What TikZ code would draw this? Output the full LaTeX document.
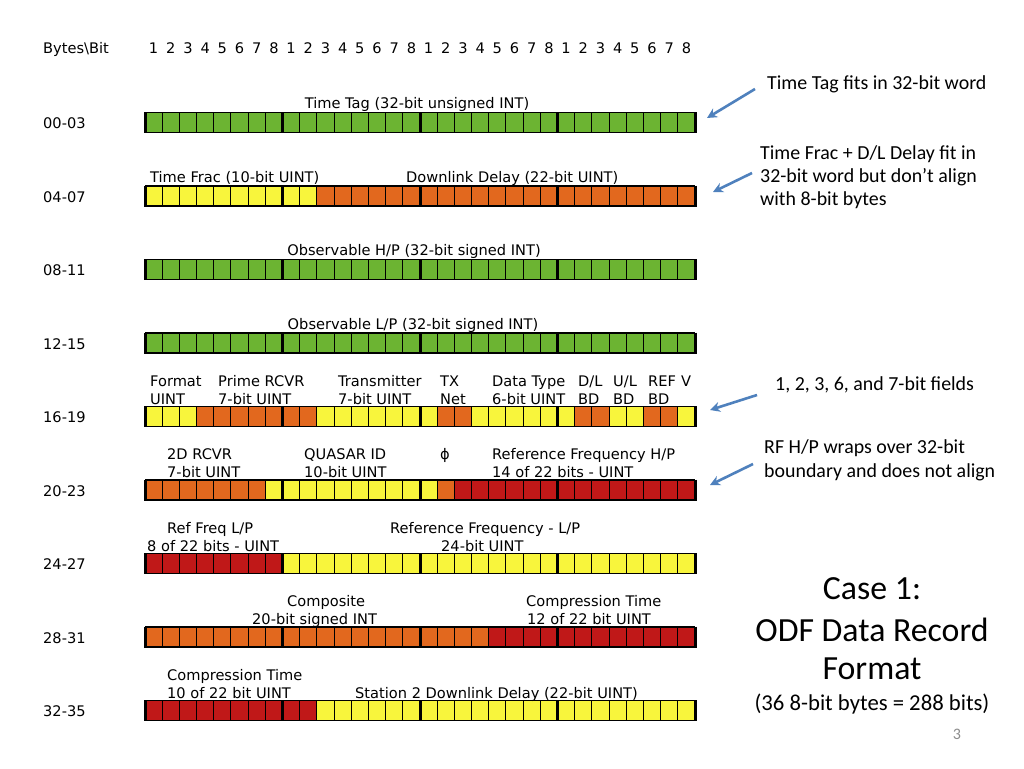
\documentclass[tikz,border=0pt]{standalone}
\usepackage{fontspec}
\usetikzlibrary{arrows.meta}
\newfontfamily\vfont{DejaVu Sans}
\newfontfamily\cfont{Carlito}
\definecolor{bgreen}{RGB}{108,180,50}
\definecolor{byellow}{RGB}{248,245,60}
\definecolor{borange}{RGB}{226,104,30}
\definecolor{bred}{RGB}{192,24,24}
\definecolor{arrblue}{RGB}{79,129,189}
\definecolor{pgray}{RGB}{140,140,140}
\newcommand\cw{17.1875}
\newcommand\odfrow[2]{%
  \foreach \s/\e/\c in {#2}{%
    \fill[\c] ({145+\s*\cw},{#1-10}) rectangle ({145+\e*\cw},{#1+10});}
  \foreach \i in {1,...,31}{%
    \draw[line width=0.9pt] ({145+\i*\cw},{#1-10}) -- ({145+\i*\cw},{#1+10});}
  \draw[line width=1.1pt] (145,{#1-10}) -- (695,{#1-10}) (145,{#1+10}) -- (695,{#1+10});
  \foreach \i in {0,8,16,24,32}{%
    \draw[line width=3pt] ({145+\i*\cw},{#1-10.5}) -- ({145+\i*\cw},{#1+10.5});}
}
\tikzset{
  lbl/.style={font=\vfont\fontsize{14.6}{17}\selectfont, inner sep=0pt, anchor=base west},
  clbl/.style={lbl, anchor=base},
  note/.style={font=\cfont\fontsize{19.9}{23}\selectfont, inner sep=0pt, anchor=base west},
  ttl/.style={font=\cfont\fontsize{33.8}{40}\selectfont, inner sep=0pt, anchor=base},
  arr/.style={draw=arrblue, line width=2.6pt, -{Stealth[length=10pt,width=10pt]}}
}
\begin{document}
\begin{tikzpicture}[x=1pt,y=-1pt]
\useasboundingbox (0,0) rectangle (1024,768);
\fill[white] (0,0) rectangle (1024,768);
% header
\node[lbl] (hb) at (43,53) {Bytes\textbackslash Bit};
\foreach \i in {0,...,31}{%
  \pgfmathtruncatemacro\bn{mod(\i,8)+1}
  \node[clbl] (h\i) at ({145+(\i+0.5)*\cw},53) {\bn};}
% row labels
\foreach \n/\t [count=\k from 0] in {00-03,04-07,08-11,12-15,16-19,20-23,24-27,28-31,32-35}{%
  \node[lbl] (l\k) at (43,{122.5+73.5*\k+6}) {\n};}
% bars
\odfrow{122.5}{0/32/bgreen}
\odfrow{196}{0/10/byellow,10/32/borange}
\odfrow{269.5}{0/32/bgreen}
\odfrow{343}{0/32/bgreen}
\odfrow{416.5}{0/3/byellow,3/10/borange,10/17/byellow,17/19/borange,19/25/byellow,25/27/borange,27/29/byellow,29/31/borange,31/32/byellow}
\odfrow{490}{0/7/borange,7/17/byellow,17/18/borange,18/32/bred}
\odfrow{563.5}{0/8/bred,8/32/byellow}
\odfrow{637}{0/20/borange,20/32/bred}
\odfrow{710.5}{0/10/bred,10/32/byellow}
% field labels
\node[clbl] (f0) at (417,108.5) {Time Tag (32-bit unsigned INT)};
\node[lbl] (f1a) at (150,182) {Time Frac (10-bit UINT)};
\node[lbl] (f1b) at (406,182) {Downlink Delay (22-bit UINT)};
\node[clbl] (f2) at (414,255.5) {Observable H/P (32-bit signed INT)};
\node[clbl] (f3) at (413,329) {Observable L/P (32-bit signed INT)};
\foreach \x/\a/\b [count=\k] in {150/Format/UINT, 218/Prime RCVR/7-bit UINT, 338/Transmitter/7-bit UINT, 440/TX/Net, 492/Data Type/6-bit UINT, 578/D\slash L/BD, 613/U\slash L/BD, 648/REF/BD}{%
  \node[lbl] (f4a\k) at (\x,386) {\a};
  \node[lbl] (f4b\k) at (\x,404) {\b};}
\node[lbl] (f4v) at (681,386) {V};
\node[lbl] (f5a) at (167,459.5) {2D RCVR};
\node[lbl] (f5b) at (167,477.5) {7-bit UINT};
\node[lbl] (f5c) at (304,459.5) {QUASAR ID};
\node[lbl] (f5d) at (304,477.5) {10-bit UINT};
\node[lbl] (f5e) at (440,459.5) {ϕ};
\node[lbl] (f5f) at (492,459.5) {Reference Frequency H/P};
\node[lbl] (f5g) at (492,477.5) {14 of 22 bits - UINT};
\node[lbl] (f6a) at (167,533) {Ref Freq L/P};
\node[lbl] (f6b) at (147,551) {8 of 22 bits - UINT};
\node[lbl] (f6c) at (390,533) {Reference Frequency - L/P};
\node[lbl] (f6d) at (441,551) {24-bit UINT};
\node[lbl] (f7a) at (287,606.5) {Composite};
\node[lbl] (f7b) at (252,624.5) {20-bit signed INT};
\node[lbl] (f7c) at (526,606.5) {Compression Time};
\node[lbl] (f7d) at (527,624.5) {12 of 22 bit UINT};
\node[lbl] (f8a) at (167,680) {Compression Time};
\node[lbl] (f8b) at (167,698) {10 of 22 bit UINT};
\node[lbl] (f8c) at (355,698) {Station 2 Downlink Delay (22-bit UINT)};
% notes
\node[note] (n1) at (767,89) {Time Tag fits in 32-bit word};
\node[note] (n2a) at (760,159) {Time Frac + D/L Delay fit in};
\node[note] (n2b) at (760,182) {32-bit word but don’t align};
\node[note] (n2c) at (760,205) {with 8-bit bytes};
\node[note] (n3) at (775,390) {1, 2, 3, 6, and 7-bit fields};
\node[note] (n4a) at (764,453) {RF H/P wraps over 32-bit};
\node[note] (n4b) at (764,477) {boundary and does not align};
% arrows
\coordinate (a1s) at (755,89); \coordinate (a1e) at (707,118);
\coordinate (a2s) at (752,173); \coordinate (a2e) at (713,192);
\coordinate (a3s) at (757,395); \coordinate (a3e) at (710,410);
\coordinate (a4s) at (753,464); \coordinate (a4e) at (710,485);
\draw[arr] (a1s) -- (a1e);
\draw[arr] (a2s) -- (a2e);
\draw[arr] (a3s) -- (a3e);
\draw[arr] (a4s) -- (a4e);
% title
\node[ttl] (t1) at (872,599) {Case 1:};
\node[ttl] (t2) at (872,641) {ODF Data Record};
\node[ttl] (t3) at (872,679) {Format};
\node[font=\cfont\fontsize{22.7}{27}\selectfont, inner sep=0pt, anchor=base] (t4) at (872,710) {(36 8-bit bytes = 288 bits)};
\node[font=\cfont\fontsize{16}{19}\selectfont, text=pgray, inner sep=0pt, anchor=base] (pg) at (957,739) {3};
\end{tikzpicture}
\end{document}
